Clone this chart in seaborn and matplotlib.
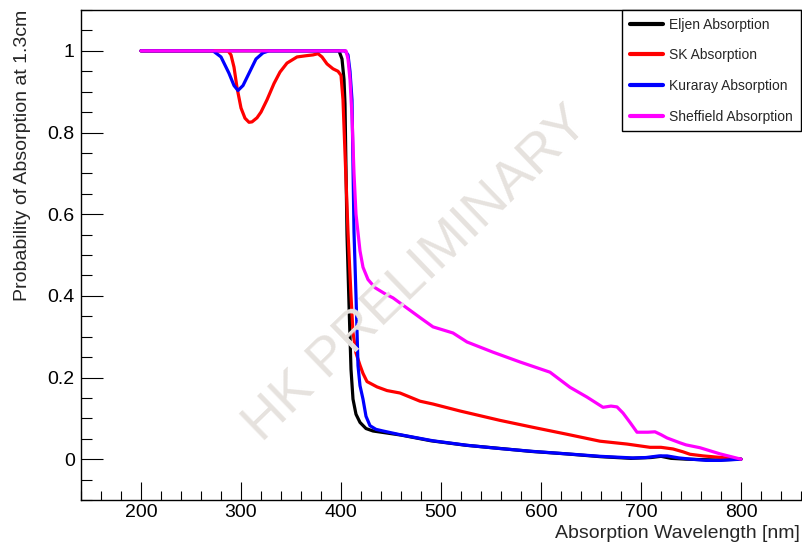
import numpy as np
import pandas as pd
import matplotlib
matplotlib.use('Agg')
import matplotlib.pyplot as plt
from matplotlib.ticker import MultipleLocator, FuncFormatter
import seaborn as sns

# Values
eljen_nm = [200, 300, 398, 401, 403, 404, 406, 408, 410, 412, 415, 419, 425, 432, 460, 490,
            525, 560, 590, 625, 660, 690, 710, 720, 730, 745, 775, 800]
eljen_abs = [1, 1, 1, 0.98, 0.93, 0.87, 0.55, 0.38, 0.22, 0.147, 0.11, 0.09, 0.075, 0.069, 0.059, 0.045,
             0.034, 0.026, 0.019, 0.013, 0.006, 0.002, 0.004, 0.007, 0.002, 0.0, -0.002, 0.0]

sk_nm = [200, 287, 290, 293, 296, 300, 304, 308, 311, 316, 320, 326, 333, 339, 346, 356, 365, 372,
         377, 381, 386, 392, 397, 400, 402, 404, 407, 410, 412, 415, 419, 422, 426, 436, 446, 459,
         479, 492, 519, 559, 592, 626, 659, 686, 709, 720, 732, 742, 749, 762, 776, 800]
sk_abs = [1, 1, 0.99, 0.96, 0.91, 0.86, 0.835, 0.825, 0.826, 0.836, 0.85, 0.88, 0.92, 0.948, 0.97, 0.985, 0.988, 0.99,
          0.993, 0.985, 0.968, 0.956, 0.95, 0.94, 0.88, 0.75, 0.556, 0.4, 0.31, 0.26, 0.23, 0.21, 0.19, 0.177, 0.168, 0.162,
          0.142, 0.135, 0.118, 0.095, 0.078, 0.061, 0.044, 0.037, 0.029, 0.029, 0.025, 0.018, 0.012, 0.008, 0.005, 0.0]

kuraray_nm = [200, 272, 280, 288, 293, 297, 302, 308, 315, 322, 328, 404, 407, 409, 411, 413, 415, 417,
              419, 422, 425, 429, 435, 442, 459, 492, 526, 559, 592, 626, 659, 692, 705, 718, 726, 738,
              750, 765, 780, 800]
kuraray_abs = [1, 1, 0.985, 0.945, 0.915, 0.903, 0.915, 0.945, 0.98, 0.995, 1, 1, 0.99, 0.95, 0.88, 0.556, 0.4, 0.229,
               0.18, 0.147, 0.105, 0.082, 0.073, 0.069, 0.06, 0.045, 0.034, 0.026, 0.019, 0.013, 0.007, 0.003, 0.004, 0.008,
               0.008, 0.003, 0.0, -0.003, -0.003, 0.0]

sheffield_nm = [200, 405, 407, 409, 411, 413, 415, 417, 419, 422, 427, 434, 444, 452, 466, 480, 492, 512,
                526, 552, 579, 609, 629, 646, 662, 670, 676, 682, 689, 696, 707, 714, 720, 726, 739, 745,
                759, 779, 800]
sheffield_abs = [1, 1, 0.98, 0.93, 0.84, 0.7, 0.6, 0.555, 0.51, 0.47, 0.44, 0.42, 0.405, 0.395, 0.37, 0.345, 0.324, 0.309,
                 0.287, 0.262, 0.238, 0.213, 0.176, 0.152, 0.127, 0.13, 0.128, 0.113, 0.09, 0.066, 0.066, 0.067, 0.06,
                 0.052, 0.04, 0.035, 0.028, 0.013, 0.0]

labels = ['Eljen Absorption', 'SK Absorption', 'Kuraray Absorption', 'Sheffield Absorption']
colors = ['#000000', '#ff0000', '#0000ff', '#ff00ff']

# long-form table for seaborn
frames = []
for lab, xs, ys in zip(labels, [eljen_nm, sk_nm, kuraray_nm, sheffield_nm],
                       [eljen_abs, sk_abs, kuraray_abs, sheffield_abs]):
    frames.append(pd.DataFrame({'nm': xs, 'prob': ys, 'sample': lab}))
df = pd.concat(frames, ignore_index=True)

sns.set_theme(style='white')
plt.rcParams['font.family'] = ['Liberation Sans', 'DejaVu Sans']

fig = plt.figure(figsize=(8.02, 5.43), dpi=100)
ax = fig.add_axes([81 / 802, 43 / 543, 730 / 802, 490 / 543])

sns.lineplot(data=df, x='nm', y='prob', hue='sample', hue_order=labels,
             palette=colors, estimator=None, linewidth=2.3, ax=ax)

ax.set_xlim(140, 870)
ax.set_ylim(-0.1, 1.1)

# ROOT-like axes, ticks pointing inwards
for side in ['left', 'bottom', 'top', 'right']:
    ax.spines[side].set_color('black')
    ax.spines[side].set_linewidth(1.0)
ax.xaxis.set_major_locator(MultipleLocator(100))
ax.xaxis.set_minor_locator(MultipleLocator(20))
ax.yaxis.set_major_locator(MultipleLocator(0.2))
ax.yaxis.set_minor_locator(MultipleLocator(0.05))
ax.xaxis.set_major_formatter(FuncFormatter(lambda v, p: '%g' % v if 200 <= v <= 800 else ''))
ax.yaxis.set_major_formatter(FuncFormatter(lambda v, p: '%g' % round(v, 2) if -0.01 <= v <= 1.01 else ''))
ax.tick_params(axis='x', which='major', direction='in', length=13, width=0.8, pad=3,
               labelsize=14, colors='black', bottom=True, top=False)
ax.tick_params(axis='x', which='minor', direction='in', length=6.5, width=0.8,
               colors='black', bottom=True, top=False)
ax.tick_params(axis='y', which='major', direction='in', length=16, width=0.8, pad=4.5,
               labelsize=14, colors='black', left=True, right=False)
ax.tick_params(axis='y', which='minor', direction='in', length=8, width=0.8,
               colors='black', left=True, right=False)

ax.set_xlabel('Absorption Wavelength [nm]', fontsize=14, ha='right')
ax.xaxis.set_label_coords((800 - 81) / 730, -0.052)
ax.set_ylabel('Probability of Absorption at 1.3cm', fontsize=14, loc='top')
ax.yaxis.set_label_coords(-0.068, 1.0)

# watermark
fig.text(416 / 802, 1 - 274 / 543, 'HK PRELIMINARY', fontsize=39, color='#e6e2de',
         rotation=44, ha='center', va='center', rotation_mode='anchor', zorder=10)

handles, _ = ax.get_legend_handles_labels()
leg = ax.legend(handles, labels, loc='upper left', bbox_to_anchor=(622 / 802, 1 - 10 / 543),
                bbox_transform=fig.transFigure, fontsize=10, frameon=True, fancybox=False,
                edgecolor='black', framealpha=1, borderpad=0.55, labelspacing=1.2,
                handlelength=2.4, handletextpad=0.45, borderaxespad=0)
leg.get_frame().set_linewidth(1.0)
for line in leg.get_lines():
    line.set_linewidth(3)

fig.savefig('out.png', dpi=100)
